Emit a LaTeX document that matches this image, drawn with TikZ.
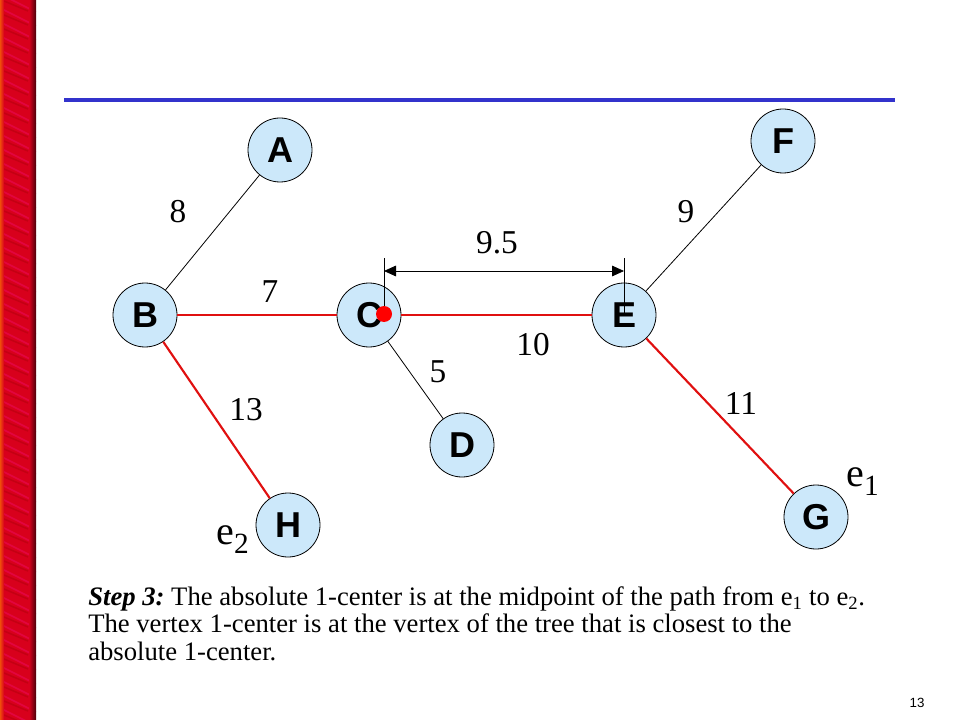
\documentclass[tikz,border=0pt]{standalone}
\usepackage{fontspec}
\setmainfont{Liberation Serif}
\newfontfamily\arialfont{Liberation Sans}
\usetikzlibrary{arrows.meta}

\definecolor{vfill}{RGB}{204,232,250}
\definecolor{barred}{RGB}{216,0,28}
\definecolor{ruleblue}{RGB}{51,51,204}
\definecolor{pathred}{RGB}{224,16,16}

\newcommand{\pathsub}[1]{\raisebox{-7pt}{\fontsize{22}{24}\selectfont #1}}

\tikzset{
  vertex/.style={circle, draw=black, line width=0.6pt, fill=vfill, minimum size=48pt,
    inner sep=0pt, font=\arialfont\bfseries\fontsize{27}{29}\selectfont},
  plain/.style={black, line width=0.6pt},
  chosen/.style={pathred, line width=1.6pt},
  weight/.style={font=\fontsize{25}{27}\selectfont},
  endlabel/.style={anchor=base west, inner sep=0pt, font=\fontsize{30}{32}\selectfont},
  streak/.style={line width=1.2pt, magenta!60!red, opacity=0.5}
}

\begin{document}
\begin{tikzpicture}[x=0.75pt, y=-0.75pt]
      \useasboundingbox (0,0) rectangle (960,720);

      % Red bar on the left
      \begin{scope}
        \clip (0,0) rectangle (36,720);
        \fill[barred] (0,0) rectangle (36,720);
        \foreach \y in {-20,-6,...,740} \draw[streak] (0,\y) -- (36,\y+18);
        \foreach \y in {-13,1,...,740} \draw[streak, red!60!black, opacity=0.3] (4,\y) -- (28,\y+10);
        \fill[left color=barred, right color=barred!35!black] (29,0) rectangle (36,720);
        \fill[left color=orange!60!barred, right color=barred] (0,0) rectangle (4,720);
      \end{scope}

      % Title rule
      \draw[ruleblue, line width=3pt] (64,100) -- (895,100);

      % Vertices
      \node[vertex] (A) at (280,150) {A};
      \node[vertex] (F) at (783,141) {F};
      \node[vertex] (B) at (145,315) {B};
      \node[vertex] (C) at (369,315) {C};
      \node[vertex] (E) at (624,315) {E};
      \node[vertex] (D) at (462,445) {D};
      \node[vertex] (H) at (288,525) {H};
      \node[vertex] (G) at (816,517) {G};

      % Edges
      \draw[plain] (A) -- (B);
      \draw[plain] (C) -- (D);
      \draw[plain] (E) -- (F);
      \draw[chosen] (B) -- (C);
      \draw[chosen] (C) -- (E);
      \draw[chosen] (B) -- (H);
      \draw[chosen] (E) -- (G);

      % Edge weights
      \node[weight] (wAB) at (178,212) {8};
      \node[weight] (wEF) at (686,212) {9};
      \node[weight] (wBC) at (270,292) {7};
      \node[weight] (wCE) at (533,345) {10};
      \node[weight] (wCD) at (438,372) {5};
      \node[weight] (wBH) at (246,410) {13};
      \node[weight] (wEG) at (741,403) {11};

      % Midpoint and its distance to E
      \node[circle, fill=red, minimum size=12pt, inner sep=0pt] (mid) at (384,314) {};
      \coordinate (midTop) at (384,258);
      \coordinate (eTop) at (624,258);
      \coordinate (arrL) at (384,271);
      \coordinate (arrR) at (624,271);
      \draw[plain] (mid) -- (midTop);
      \draw[plain] (E.center) -- (eTop);
      \draw[plain, {Triangle[length=9pt,width=8pt]}-{Triangle[length=9pt,width=8pt]}] (arrL) -- (arrR);
      \node[weight] (wmid) at (497,243) {9.5};

      % End points of the longest path
      \node[endlabel] (e1) at (846,486) {e\pathsub{1}};
      \node[endlabel] (e2) at (216,544) {e\pathsub{2}};

      % Caption
      \node[anchor=north west, align=left, inner sep=0pt, font=\fontsize{20}{20.8}\selectfont\frenchspacing] (note) at (88,586)
        {{\bfseries\itshape Step 3:} The absolute 1-center is at the midpoint of the path from e\textsubscript{1} to e\textsubscript{2}.\\
         The vertex 1-center is at the vertex of the tree that is closest to the\\
         absolute 1-center.};
      \node[font=\arialfont\fontsize{10}{12}\selectfont] (page) at (917,703) {13};
\end{tikzpicture}
\end{document}
